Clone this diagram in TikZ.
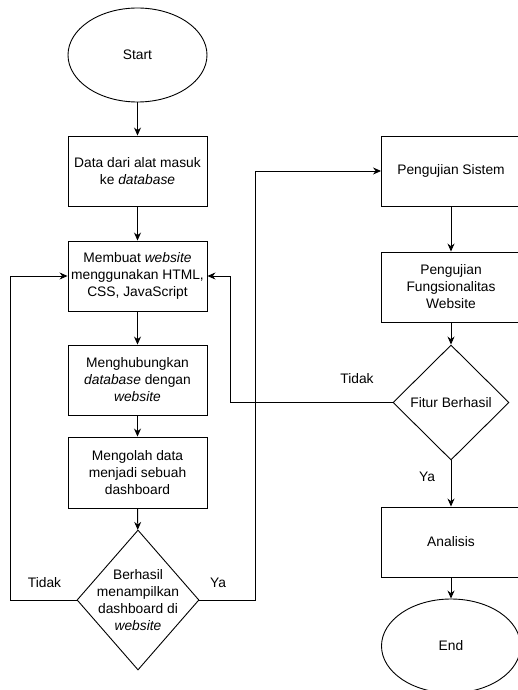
\documentclass[tikz,border=0pt]{standalone}
\usepackage{fontspec}
\setmainfont{Liberation Sans}
\usetikzlibrary{shapes.geometric}
\usetikzlibrary{arrows.meta}

\tikzset{
	proses/.style={draw, rectangle, minimum width=139pt, minimum height=70pt, align=center, inner sep=1pt},
	terminal/.style={draw, ellipse, minimum width=139pt, minimum height=94pt},
	keputusan/.style={draw, diamond, inner sep=0pt},
	alur/.style={-{Stealth[length=8pt, width=7pt]}},
}

\begin{document}
\begin{tikzpicture}[x=1pt, y=-1pt, line width=0.9pt, font=\fontsize{13.8pt}{17pt}\selectfont]
			\useasboundingbox (0, 0) rectangle (517, 690);

			% kolom kiri
			\node[terminal] (start) at (137.5, 55) {Start};
			\node[proses] (data) at (137.5, 171) {Data dari alat masuk\\ke \textit{database}};
			\node[proses] (web) at (137.5, 276) {Membuat \textit{website}\\menggunakan HTML,\\CSS, JavaScript};
			\node[proses] (hubung) at (137.5, 380) {Menghubungkan\\\textit{database} dengan\\\textit{website}};
			\node[proses, minimum height=71pt] (olah) at (137.5, 472.5) {Mengolah data\\menjadi sebuah\\dashboard};
			\node[keputusan, minimum width=122pt, minimum height=140pt,
				label={[align=center]center:Berhasil\\menampilkan\\dashboard di\\\textit{website}}] (cek) at (138, 600) {};

			% kolom kanan
			\node[proses] (uji) at (451, 171) {Pengujian Sistem};
			\node[proses] (fungsi) at (451, 287) {Pengujian\\Fungsionalitas\\Website};
			\node[keputusan, minimum width=116pt, minimum height=115pt,
				label={center:Fitur Berhasil}] (fitur) at (451, 402.5) {};
			\node[proses] (analisis) at (451, 542) {Analisis};
			\node[terminal] (end) at (451, 646) {End};

			\coordinate (kiri) at (10, 600);
			\coordinate (tengah) at (255, 600);
			\coordinate (balik) at (230, 402.5);

			\draw[alur] (start) -- (data);
			\draw[alur] (data) -- (web);
			\draw[alur] (web) -- (hubung);
			\draw[alur] (hubung) -- (olah);
			\draw[alur] (olah) -- (cek);
			\draw[alur] (cek.west) -- (kiri) |- (web.west);
			\draw[alur] (cek.east) -- (tengah) |- (uji.west);
			\draw[alur] (uji) -- (fungsi);
			\draw[alur] (fungsi) -- (fitur);
			\draw[alur] (fitur.west) -- (balik) |- (web.east);
			\draw[alur] (fitur) -- (analisis);
			\draw[alur] (analisis) -- (end);

			\node (tidakA) at (44.5, 583) {Tidak};
			\node (yaA) at (218, 583) {Ya};
			\node (tidakB) at (357, 379) {Tidak};
			\node (yaB) at (427, 477) {Ya};
		\end{tikzpicture}
\end{document}
